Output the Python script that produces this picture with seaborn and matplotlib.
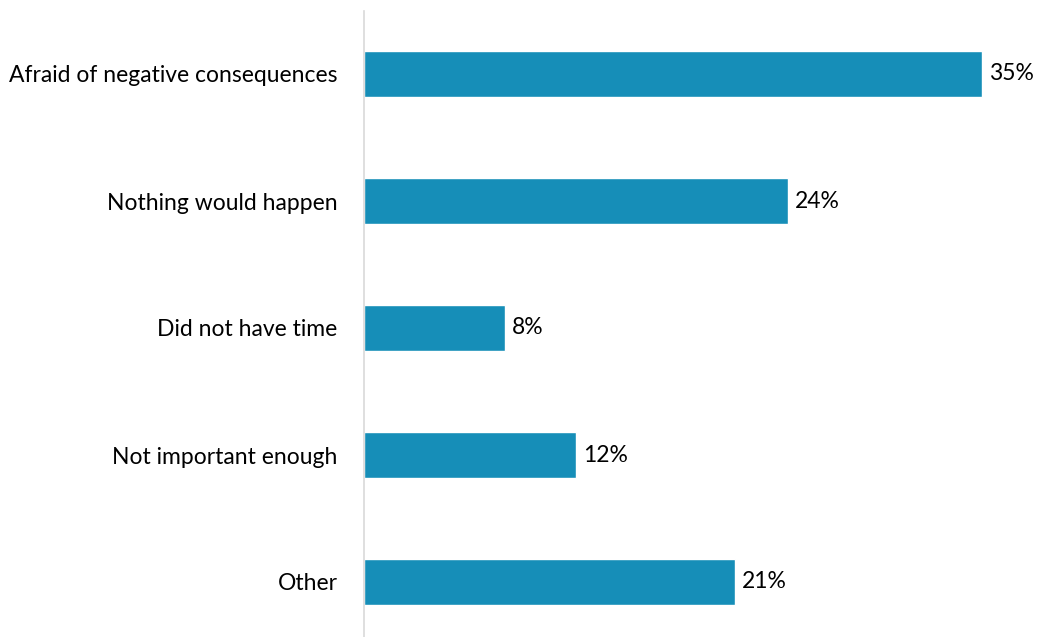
import matplotlib
matplotlib.use("Agg")
import matplotlib.pyplot as plt
import seaborn as sns
import pandas as pd

# Reasons for not reporting
reasons = [
    "Afraid of negative consequences",
    "Nothing would happen",
    "Did not have time",
    "Not important enough",
    "Other",
]
shares = [35, 24, 8, 12, 21]

df = pd.DataFrame({"reason": reasons, "share": shares})

sns.set_theme(style="white")
plt.rcParams["font.family"] = ["Lato", "DejaVu Sans"]

W, H = 1038, 637
fig = plt.figure(figsize=(W / 100, H / 100), dpi=100)
# axes spans from the category axis line to the right edge
ax = fig.add_axes([364 / W, -8.5 / H, (W - 364) / W, 635 / H])

bar_color = "#168EB8"
sns.barplot(data=df, x="share", y="reason", orient="h", color=bar_color,
            width=0.355, saturation=1, ax=ax)

ax.set_xlim(0, (W - 364) / 17.66)
ax.set_ylim(4.5, -0.5)
ax.set_xlabel("")
ax.set_ylabel("")
ax.set_xticks([])

for s in ["top", "right", "bottom"]:
    ax.spines[s].set_visible(False)
ax.spines["left"].set_color("#d9d9d9")
ax.spines["left"].set_linewidth(1.2)

ax.tick_params(axis="y", length=0, pad=19, labelsize=16.5, colors="#000000")

for i, v in enumerate(shares):
    ax.text(v + 0.4, i, f"{v}%", va="center", ha="left", fontsize=16.5,
            color="#000000")

fig.savefig("out.png", dpi=100)
